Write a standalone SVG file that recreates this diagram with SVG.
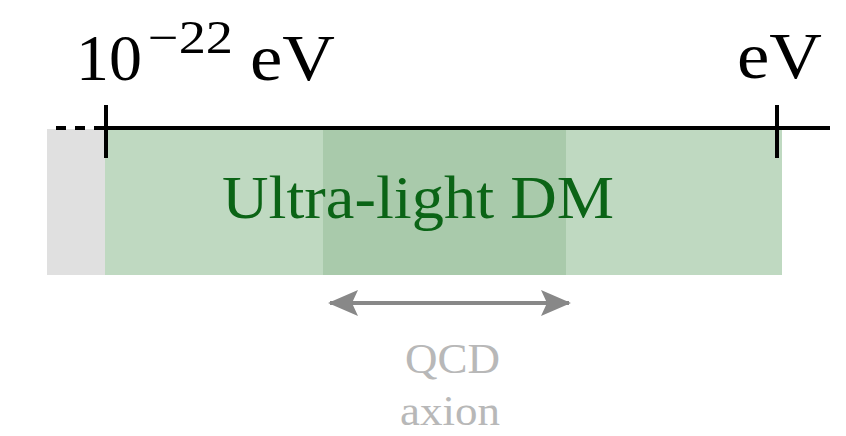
<svg xmlns="http://www.w3.org/2000/svg" width="846" height="436" viewBox="0 0 846 436">
<style>
.lbl{font-family:"Liberation Serif","Times New Roman",serif;}
.axis{stroke:#000;stroke-width:4;fill:none;}
.qcd{font-size:42px;fill:#b8b8b8;}
</style>
<defs>
<marker id="ah" viewBox="0 0 30 28" refX="28" refY="14" markerWidth="30" markerHeight="28" markerUnits="userSpaceOnUse" orient="auto-start-reverse">
<path d="M0,1 L30,14 L0,27 L6,14 Z" fill="#888"/>
</marker>
</defs>
<rect width="846" height="436" fill="#fff"/>
<g id="excluded"><rect x="47" y="129" width="58" height="146" fill="#e0e0e0"/></g>
<g id="ultralight">
<rect x="105" y="129" width="677" height="146" fill="#bfd9c1"/>
<rect x="323" y="129" width="243" height="146" fill="#a9caab"/>
<text class="lbl" x="418" y="218" font-size="62" fill="#0b6416" text-anchor="middle" textLength="392" lengthAdjust="spacingAndGlyphs">Ultra-light DM</text>
</g>
<g id="axis">
<line class="axis" x1="105" y1="128" x2="830" y2="128"/>
<line class="axis" x1="56" y1="128" x2="105" y2="128" stroke-dasharray="10,9"/>
<line class="axis" x1="106" y1="105" x2="106" y2="158"/>
<line class="axis" x1="777" y1="105" x2="777" y2="158"/>
<text class="lbl" x="76" y="80" font-size="66" fill="#000">10</text>
<text class="lbl" x="148" y="53" font-size="46" fill="#000" textLength="85" lengthAdjust="spacingAndGlyphs">−22</text>
<text class="lbl" x="250" y="80" font-size="66" fill="#000" textLength="85" lengthAdjust="spacingAndGlyphs">eV</text>
<text class="lbl" x="737" y="78" font-size="66" fill="#000" textLength="85" lengthAdjust="spacingAndGlyphs">eV</text>
</g>
<g id="connectors">
<line x1="330" y1="303" x2="569" y2="303" stroke="#888" stroke-width="4" marker-start="url(#ah)" marker-end="url(#ah)"/>
</g>
<g id="qcd">
<text class="lbl qcd" x="405" y="373" textLength="95" lengthAdjust="spacingAndGlyphs">QCD</text>
<text class="lbl qcd" x="400" y="425" textLength="100" lengthAdjust="spacingAndGlyphs">axion</text>
</g>
</svg>
